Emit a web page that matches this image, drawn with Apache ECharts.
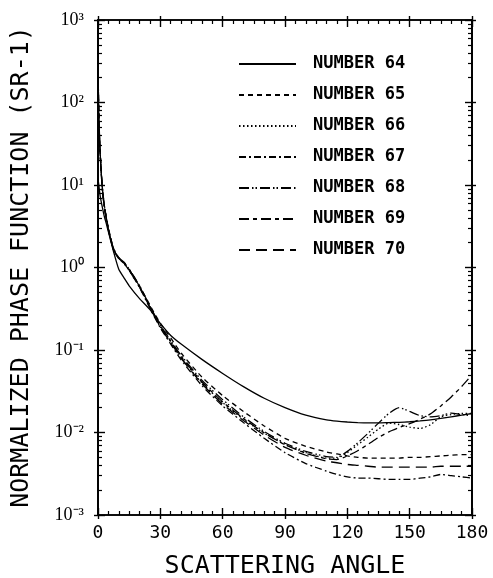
<!DOCTYPE html>
<html>
<head>
<meta charset="utf-8">
<script src="https://cdn.jsdelivr.net/npm/echarts@6/dist/echarts.min.js"></script>
<style>
html,body{margin:0;padding:0;background:#fff;}
#chart{width:493px;height:578px;}
</style>
</head>
<body>
<div id="chart"></div>
<script>
// ---- data ----
const angles = [0, 0.5, 1, 2, 3, 4, 5, 7.5, 10, 12.5, 15, 20, 25, 30, 35, 40, 50, 60, 70, 80, 90, 100, 110, 115, 120, 125, 130, 135, 140, 145, 150, 155, 160, 165, 170, 175, 180];

const num64 = [12, 9.5, 7.5, 5.5, 4.2, 3.4, 2.7, 1.55, 0.95, 0.75, 0.6, 0.42, 0.31, 0.21, 0.15, 0.118, 0.077, 0.052, 0.036, 0.026, 0.02, 0.0162, 0.0142, 0.0137, 0.0134, 0.0132, 0.0131, 0.0131, 0.0132, 0.0133, 0.0135, 0.0138, 0.0142, 0.0148, 0.0155, 0.0162, 0.017];
const num65 = [260, 60, 27, 10, 5.8, 4.1, 3.0, 1.7, 1.32, 1.15, 0.95, 0.6, 0.35, 0.21, 0.14, 0.092, 0.047, 0.028, 0.018, 0.012, 0.0085, 0.0068, 0.0058, 0.0055, 0.0052, 0.005, 0.0049, 0.0049, 0.0049, 0.0049, 0.005, 0.005, 0.0051, 0.0052, 0.0053, 0.0054, 0.0054];
const num66 = [180, 50, 24, 9.5, 5.6, 4.0, 2.9, 1.65, 1.3, 1.12, 0.93, 0.58, 0.33, 0.19, 0.125, 0.08, 0.04, 0.023, 0.0145, 0.0098, 0.0072, 0.0057, 0.0049, 0.0049, 0.0057, 0.0071, 0.0088, 0.011, 0.013, 0.0125, 0.0116, 0.0112, 0.0124, 0.0155, 0.0165, 0.017, 0.017];
const num67 = [220, 55, 25, 9.5, 5.5, 3.9, 2.85, 1.62, 1.28, 1.12, 0.92, 0.57, 0.32, 0.185, 0.118, 0.076, 0.037, 0.021, 0.0132, 0.0085, 0.0057, 0.0042, 0.0034, 0.0031, 0.0029, 0.0028, 0.0028, 0.00275, 0.0027, 0.0027, 0.0027, 0.0028, 0.0029, 0.0031, 0.003, 0.0029, 0.0028];
const num68 = [240, 58, 26, 9.8, 5.7, 4.0, 2.95, 1.68, 1.32, 1.16, 0.96, 0.6, 0.34, 0.2, 0.13, 0.086, 0.043, 0.025, 0.0155, 0.0103, 0.0074, 0.0059, 0.0051, 0.005, 0.0059, 0.0075, 0.0098, 0.013, 0.017, 0.02, 0.018, 0.016, 0.0155, 0.016, 0.0172, 0.0165, 0.016];
const num69 = [200, 53, 25, 9.6, 5.6, 3.95, 2.9, 1.66, 1.3, 1.14, 0.94, 0.59, 0.335, 0.195, 0.128, 0.083, 0.041, 0.0235, 0.0148, 0.0099, 0.0071, 0.0056, 0.0048, 0.0047, 0.0052, 0.006, 0.0072, 0.0087, 0.0102, 0.0115, 0.0128, 0.0145, 0.0168, 0.021, 0.027, 0.036, 0.05];
const num70 = [230, 56, 25, 9.5, 5.5, 3.9, 2.88, 1.64, 1.29, 1.13, 0.93, 0.58, 0.33, 0.19, 0.122, 0.08, 0.039, 0.022, 0.014, 0.0093, 0.0066, 0.0053, 0.0045, 0.0043, 0.0041, 0.004, 0.0039, 0.0038, 0.0038, 0.0038, 0.0038, 0.0038, 0.0038, 0.0039, 0.0039, 0.0039, 0.0039];

const seriesNames = ['NUMBER 64', 'NUMBER 65', 'NUMBER 66', 'NUMBER 67', 'NUMBER 68', 'NUMBER 69', 'NUMBER 70'];
const seriesValues = [num64, num65, num66, num67, num68, num69, num70];

const xTickLabels = ['0', '30', '60', '90', '120', '150', '180'];
const yTickLabels = {'-3': '10\u207B\u00B3', '-2': '10\u207B\u00B2', '-1': '10\u207B\u00B9', '0': '10\u2070', '1': '10\u00B9', '2': '10\u00B2', '3': '10\u00B3'};
const yMinorMantissas = [2, 3, 4, 5, 6, 7, 8, 9];
const yDecades = [-3, -2, -1, 0, 1, 2];

// minor tick positions as decimal exponents (for a linear helper axis in log space)
const yMinorTickExps = [];
yDecades.forEach(function (e) { yMinorMantissas.forEach(function (m) { yMinorTickExps.push(+(e + Math.log10(m)).toFixed(4)); }); });

// ---- styles ----
const dashTypes = ['solid', [5, 4], [1.5, 2.5], [7, 3, 2, 3], [10, 3, 1.5, 2, 1.5, 3], [10, 4, 4, 4], [11, 6]];
const mono = 'DejaVu Sans Mono';

const chart = echarts.init(document.getElementById('chart'), null, {renderer: 'canvas'});

const axisLineStyle = {show: true, onZero: false, lineStyle: {color: '#000', width: 1.6}};
const xCommon = {
  type: 'value', min: 0, max: 180, interval: 30,
  axisLine: axisLineStyle,
  axisTick: {show: true, inside: true, length: 7, lineStyle: {color: '#000', width: 1.4}},
  minorTick: {show: true, splitNumber: 6, length: 4, lineStyle: {color: '#000', width: 1.2}},
  splitLine: {show: false}, minorSplitLine: {show: false}
};
const xOuter = {
  type: 'value', min: 0, max: 180, interval: 30,
  axisLine: axisLineStyle, axisLabel: {show: false}, splitLine: {show: false},
  axisTick: {show: true, inside: false, length: 4, lineStyle: {color: '#000', width: 1.4}}
};
const yCommon = {
  type: 'log', logBase: 10, min: 0.001, max: 1000,
  axisLine: axisLineStyle,
  axisTick: {show: true, inside: true, length: 7, lineStyle: {color: '#000', width: 1.4}},
  splitLine: {show: false}
};
const yMinor = {
  type: 'value', min: -3, max: 3, interval: 1,
  axisLine: axisLineStyle, axisLabel: {show: false}, splitLine: {show: false},
  axisTick: {show: true, inside: true, length: 4, customValues: yMinorTickExps, lineStyle: {color: '#000', width: 1.2}}
};
const yOuter = {
  type: 'value', min: -3, max: 3, interval: 1,
  axisLine: axisLineStyle, axisLabel: {show: false}, splitLine: {show: false},
  axisTick: {show: true, inside: false, length: 4, lineStyle: {color: '#000', width: 1.4}}
};

chart.setOption({
  animation: false,
  backgroundColor: '#fff',
  grid: {left: 98, right: 21, top: 20, bottom: 63, containLabel: false},
  xAxis: [
    Object.assign({}, xCommon, {
      position: 'bottom',
      axisLabel: {show: true, margin: 9, color: '#000', fontFamily: mono, fontSize: 18,
        formatter: function (v) { const i = Math.round(v / 30); return xTickLabels[i] !== undefined ? xTickLabels[i] : ''; }}
    }),
    Object.assign({}, xCommon, {position: 'top', axisLabel: {show: false}}),
    Object.assign({}, xOuter, {position: 'bottom', offset: 0}),
    Object.assign({}, xOuter, {position: 'top', offset: 0})
  ],
  yAxis: [
    Object.assign({}, yCommon, {
      position: 'left',
      axisLabel: {show: true, margin: 14, color: '#000', fontFamily: 'Liberation Serif', fontSize: 18,
        formatter: function (v) { const e = Math.round(Math.log10(v)); return yTickLabels[String(e)] || ''; }}
    }),
    Object.assign({}, yCommon, {position: 'right', axisLabel: {show: false}}),
    Object.assign({}, yMinor, {position: 'left', offset: 0}),
    Object.assign({}, yMinor, {position: 'right', offset: 0}),
    Object.assign({}, yOuter, {position: 'left', offset: 0}),
    Object.assign({}, yOuter, {position: 'right', offset: 0})
  ],
  legend: {
    orient: 'vertical', left: 233, top: 49,
    itemWidth: 57, itemHeight: 14, itemGap: 11,
    data: seriesNames,
    itemStyle: {opacity: 0},
    lineStyle: {opacity: 1},
    textStyle: {fontFamily: mono, fontSize: 17, fontWeight: 'bold', color: '#000', lineHeight: 20, padding: [0, 0, 0, 12]}
  },
  graphic: [
    {type: 'text', x: 285, y: 566, style: {text: 'SCATTERING ANGLE', font: '25px "DejaVu Sans Mono"', fill: '#000', align: 'center', verticalAlign: 'middle'}},
    {type: 'text', x: 21, y: 267, rotation: Math.PI / 2, style: {text: 'NORMALIZED PHASE FUNCTION (SR-1)', font: '25px "DejaVu Sans Mono"', fill: '#000', align: 'center', verticalAlign: 'middle'}}
  ],
  series: seriesValues.map(function (vals, k) {
    return {
      type: 'line', name: seriesNames[k], xAxisIndex: 0, yAxisIndex: 0,
      data: angles.map(function (a, i) { return [a, vals[i]]; }),
      symbol: 'none', showSymbol: false, smooth: 0.2,
      lineStyle: {color: '#000', width: 1.3, type: dashTypes[k]},
      itemStyle: {color: '#000'}
    };
  })
});
</script>
</body>
</html>
